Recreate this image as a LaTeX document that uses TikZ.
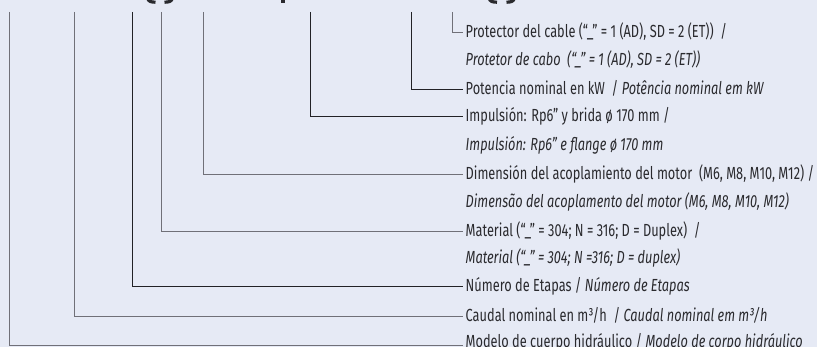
\documentclass[tikz,border=0pt]{standalone}
\usepackage{fontspec}
\setmainfont[FakeStretch=0.73]{Fira Sans}
\definecolor{bg}{HTML}{E6EAF5}
\definecolor{txt}{HTML}{2A2A2E}
\definecolor{leadgray}{HTML}{707078}
\definecolor{leadblack}{HTML}{222226}
\tikzset{
  lbl/.style={anchor=west, inner xsep=2.5pt, inner ysep=0pt, text height=13pt, text depth=1pt,
    font=\fontsize{17.5}{20}\selectfont, text=txt},
  itl/.style={lbl, font=\fontsize{17.5}{20}\selectfont\itshape},
  leadg/.style={line width=0.9pt, draw=leadgray},
  leadk/.style={line width=0.9pt, draw=leadblack},
  glyphcut/.style={line width=3.2pt, draw=txt, line cap=butt}
}
\begin{document}
\begin{tikzpicture}[x=1pt,y=-1pt]
\useasboundingbox (0,0) rectangle (817,347);
\fill[bg] (0,0) rectangle (817,347);
% cropped bottoms of the large code glyphs at the top edge
\begin{scope}
\clip (0,0) rectangle (817,6);
\draw[glyphcut] (147.5,-2) .. controls (148.5,1.5) and (151,2.2) .. (155.5,2.2);
\draw[glyphcut] (172.5,-2) .. controls (171.5,1.5) and (169,2.2) .. (164.5,2.2);
\fill[txt] (281.3,-1) rectangle (285,3.4);
\draw[glyphcut] (489,-2) .. controls (490,1.5) and (492.5,2.2) .. (497,2.2);
\draw[glyphcut] (514.5,-2) .. controls (513.5,1.5) and (511,2.2) .. (506.5,2.2);
\end{scope}
% labels
\node[lbl] (l0) at (463,32) {Protector del cable (“\_” = 1 (AD), SD = 2 (ET))\ \ /};
\node[itl] (l1) at (463,60) {Protetor de cabo\ \ (“\_” = 1 (AD), SD = 2 (ET))};
\node[lbl] (l2) at (463,89) {Potencia nominal en kW\ \ / \textit{Potência nominal em kW}};
\node[lbl] (l3) at (463,116) {Impulsión: Rp6” y brida ø 170 mm /};
\node[itl] (l4) at (463,145) {Impulsión: Rp6” e flange ø 170 mm};
\node[lbl] (l5) at (463,174) {Dimensión del acoplamiento del motor\ \ (M6, M8, M10, M12) /};
\node[itl] (l6) at (463,202) {Dimensão del acoplamento del motor (M6, M8, M10, M12)};
\node[lbl] (l7) at (463,231) {Material (“\_” = 304; N = 316; D = Duplex)\ \ /};
\node[itl] (l8) at (463,258) {Material (“\_” = 304; N =316; D = duplex)};
\node[lbl] (l9) at (463,286) {Número de Etapas / \textit{Número de Etapas}};
\node[lbl] (l10) at (463,316) {Caudal nominal en m³/h\ \ / \textit{Caudal nominal em m³/h}};
\node[lbl] (l11) at (463,342) {Modelo de cuerpo hidráulico / \textit{Modelo de corpo hidráulico}};
% tops of leaders
\coordinate (t0) at (452,12);
\coordinate (t2) at (411,12);
\coordinate (t3) at (310,12);
\coordinate (t5) at (203,12);
\coordinate (t7) at (161,12);
\coordinate (t9) at (132,12);
\coordinate (t10) at (74,12);
\coordinate (t11) at (9,12);
\coordinate (b11) at (463,345);
% leaders
\draw[leadg] (t0) |- (l0.west);
\draw[leadk] (t2) |- (l2.west);
\draw[leadk] (t3) |- (l3.west);
\draw[leadg] (t5) |- (l5.west);
\draw[leadg] (t7) |- (l7.west);
\draw[leadk] (t9) |- (l9.west);
\draw[leadg] (t10) |- (l10.west);
\draw[leadg] (t11) |- (b11);
\end{tikzpicture}
\end{document}
